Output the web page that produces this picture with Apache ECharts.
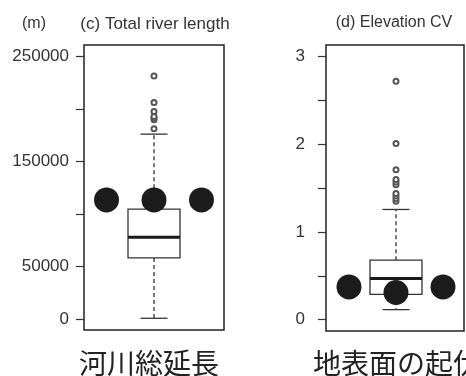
<!DOCTYPE html>
<html>
<head>
<meta charset="utf-8">
<script src="https://cdn.jsdelivr.net/npm/echarts@6/dist/echarts.min.js"></script>
<style>
html,body{margin:0;padding:0;background:#fff;}
#chart{width:466px;height:376px;}
</style>
</head>
<body>
<div id="chart"></div>
<script>
// ---- data ----
const boxPosition = 2;
const dotPositions = [1, 2, 3];

// (c) Total river length [min, Q1, median, Q3, max]
const riverStats = [700, 58200, 78000, 104700, 176200];
const riverOutliers = [181300, 190000, 191500, 193000, 197800, 206400, 231600];
const riverDots = [113500, 113500, 113500];
const riverTicks = [0, 50000, 100000, 150000, 200000, 250000];
const riverTickLabels = [0, 50000, 150000, 250000];

// (d) Elevation CV [min, Q1, median, Q3, max]
const cvStats = [0.114, 0.289, 0.469, 0.678, 1.257];
const cvOutliers = [1.35, 1.38, 1.41, 1.44, 1.54, 1.57, 1.60, 1.71, 2.01, 2.72];
const cvDots = [0.373, 0.309, 0.373];
const cvTicks = [0, 0.5, 1, 1.5, 2, 2.5, 3];
const cvTickLabels = [0, 1, 2, 3];

const titles = ['(m)', '(c) Total river length', '(d) Elevation CV'];
const jpLabels = ['河川総延長', '地表面の起伏'];

// ---- chart ----
const chart = echarts.init(document.getElementById('chart'), null, {renderer: 'canvas'});

function renderBox(params, api) {
  const x = api.value(0);
  const lo = api.coord([x, api.value(1)]);
  const q1 = api.coord([x, api.value(2)]);
  const med = api.coord([x, api.value(3)]);
  const q3 = api.coord([x, api.value(4)]);
  const hi = api.coord([x, api.value(5)]);
  const cx = med[0];
  const hw = 26, cw = 13.5;
  const lineCol = '#333';
  const dashStyle = {stroke: lineCol, lineWidth: 1.3, lineDash: [4, 3]};
  const solid = {stroke: lineCol, lineWidth: 1.3};
  return {
    type: 'group',
    children: [
      {type: 'line', shape: {x1: cx, y1: q1[1], x2: cx, y2: lo[1]}, style: dashStyle},
      {type: 'line', shape: {x1: cx, y1: q3[1], x2: cx, y2: hi[1]}, style: dashStyle},
      {type: 'line', shape: {x1: cx - cw, y1: lo[1], x2: cx + cw, y2: lo[1]}, style: solid},
      {type: 'line', shape: {x1: cx - cw, y1: hi[1], x2: cx + cw, y2: hi[1]}, style: solid},
      {type: 'rect', shape: {x: cx - hw, y: q3[1], width: hw * 2, height: q1[1] - q3[1]},
        style: {fill: '#fff', stroke: lineCol, lineWidth: 1.3}},
      {type: 'line', shape: {x1: cx - hw, y1: med[1], x2: cx + hw, y2: med[1]},
        style: {stroke: '#1a1a1a', lineWidth: 3}}
    ]
  };
}

function yAxisDef(gridIndex, min, max, ticks, labels, margin) {
  return {
    type: 'value', gridIndex: gridIndex, min: min, max: max,
    axisLine: {show: false},
    splitLine: {show: false},
    axisTick: {show: true, length: 8, customValues: ticks, lineStyle: {color: '#333', width: 1.2}},
    axisLabel: {show: true, customValues: labels, margin: margin, color: '#333',
      fontFamily: 'Liberation Sans, Arial, sans-serif', fontSize: 17,
      formatter: function (v) { return String(v); }}
  };
}

const font = 'Liberation Sans, Arial, sans-serif';

const option = {
  animation: false,
  backgroundColor: '#fff',
  grid: [
    {left: 84, top: 45, width: 140, height: 285, show: true, borderColor: '#222', borderWidth: 1.5, backgroundColor: 'transparent'},
    {left: 326, top: 45, width: 138, height: 286, show: true, borderColor: '#222', borderWidth: 1.5, backgroundColor: 'transparent'}
  ],
  xAxis: [
    {type: 'value', gridIndex: 0, min: 0.526, max: 3.474, show: false},
    {type: 'value', gridIndex: 1, min: 0.511, max: 3.447, show: false}
  ],
  yAxis: [
    yAxisDef(0, -10480, 261150, riverTicks, riverTickLabels, 15),
    yAxisDef(1, -0.13, 3.134, cvTicks, cvTickLabels, 21)
  ],
  graphic: [
    {type: 'text', x: 34, y: 24, style: {text: titles[0], font: '16px ' + font, fill: '#333', textAlign: 'center', textVerticalAlign: 'middle'}},
    {type: 'text', x: 155, y: 24, style: {text: titles[1], font: '17px ' + font, fill: '#333', textAlign: 'center', textVerticalAlign: 'middle'}},
    {type: 'text', x: 394, y: 23, style: {text: titles[2], font: '16px ' + font, fill: '#333', textAlign: 'center', textVerticalAlign: 'middle'}},
    {type: 'text', x: 149, y: 363, style: {text: jpLabels[0], font: '28px "Noto Sans CJK JP"', fill: '#222', textAlign: 'center', textVerticalAlign: 'middle'}},
    {type: 'text', x: 397, y: 363, style: {text: jpLabels[1], font: '28px "Noto Sans CJK JP"', fill: '#222', textAlign: 'center', textVerticalAlign: 'middle'}}
  ],
  series: [
    {type: 'custom', xAxisIndex: 0, yAxisIndex: 0, renderItem: renderBox,
      data: [[boxPosition].concat(riverStats)], z: 2},
    {type: 'scatter', xAxisIndex: 0, yAxisIndex: 0, symbol: 'emptyCircle', symbolSize: 5,
      itemStyle: {color: '#555', borderWidth: 1.2, opacity: 1}, data: riverOutliers.map(v => [boxPosition, v]), z: 3},
    {type: 'scatter', xAxisIndex: 0, yAxisIndex: 0, symbol: 'circle', symbolSize: 25,
      itemStyle: {color: '#1c1c1c', opacity: 1}, data: riverDots.map((v, i) => [dotPositions[i], v]), z: 4},

    {type: 'custom', xAxisIndex: 1, yAxisIndex: 1, renderItem: renderBox,
      data: [[boxPosition].concat(cvStats)], z: 2},
    {type: 'scatter', xAxisIndex: 1, yAxisIndex: 1, symbol: 'emptyCircle', symbolSize: 5,
      itemStyle: {color: '#555', borderWidth: 1.2, opacity: 1}, data: cvOutliers.map(v => [boxPosition, v]), z: 3},
    {type: 'scatter', xAxisIndex: 1, yAxisIndex: 1, symbol: 'circle', symbolSize: 25,
      itemStyle: {color: '#1c1c1c', opacity: 1}, data: cvDots.map((v, i) => [dotPositions[i], v]), z: 4}
  ]
};
chart.setOption(option);
</script>
</body>
</html>
